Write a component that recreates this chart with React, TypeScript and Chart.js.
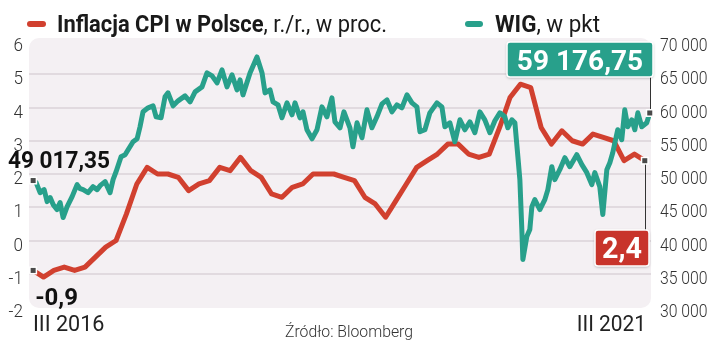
import React, { useEffect, useRef } from "react";
import { Chart, registerables } from "chart.js";

Chart.register(...registerables);

// CPI y/y, monthly from III 2016 (index 0) to II 2021
const cpiValues = [
  -0.9, -1.1, -0.9, -0.8, -0.9, -0.8, -0.5, -0.2, 0.0, 0.8,
  1.7, 2.2, 2.0, 2.0, 1.9, 1.5, 1.7, 1.8, 2.2, 2.1, 2.5, 2.1,
  1.9, 1.4, 1.3, 1.6, 1.7, 2.0, 2.0, 2.0, 1.9, 1.8, 1.3, 1.1,
  0.7, 1.2, 1.7, 2.2, 2.4, 2.6, 2.9, 2.9, 2.6, 2.5, 2.6, 3.4,
  4.3, 4.7, 4.6, 3.4, 2.9, 3.3, 3.0, 2.9, 3.2, 3.1, 3.0, 2.4,
  2.6, 2.4,
];

// WIG: position in months since III 2016, and index level
const wigMonths = [
  0, 0.29, 0.67, 1.06, 1.35, 1.64, 1.93, 2.31, 2.6, 2.89,
  3.28, 3.76, 4.24, 4.53, 4.82, 5.3, 5.78, 6.17, 6.46, 6.94,
  7.42, 7.71, 8.0, 8.48, 8.87, 9.16, 9.64, 10.03, 10.31, 10.6,
  11.09, 11.57, 11.86, 12.34, 12.72, 13.01, 13.5, 13.98, 14.65, 15.14,
  15.62, 16.29, 16.77, 17.26, 17.74, 18.22, 18.7, 19.18, 19.67, 19.96,
  20.24, 20.92, 21.59, 22.08, 22.37, 22.85, 23.14, 23.62, 24.0, 24.49,
  24.97, 25.26, 25.74, 26.03, 26.41, 26.9, 27.38, 27.86, 28.34, 28.82,
  29.11, 29.6, 29.98, 30.56, 30.85, 31.24, 31.72, 32.2, 32.68, 33.16,
  33.65, 34.13, 34.61, 35.09, 35.57, 36.06, 36.54, 37.02, 37.31, 37.79,
  38.27, 38.95, 39.43, 39.72, 40.2, 40.68, 41.17, 41.65, 42.13, 42.61,
  43.09, 43.57, 44.06, 44.54, 45.02, 45.5, 45.79, 46.18, 46.47, 46.76,
  46.95, 47.14, 47.24, 47.62, 47.91, 48.11, 48.39, 48.88, 49.36, 49.65,
  50.03, 50.32, 50.8, 51.29, 51.77, 52.44, 52.93, 53.41, 53.89, 54.18,
  54.66, 54.95, 55.34, 55.63, 55.91, 56.39, 56.78, 57.07, 57.36, 57.75,
  58.04, 58.33, 58.71, 59.19, 59.48,
];

const wigValues = [
  49017.35, 48700, 47200, 47650, 45850, 46450, 45400, 44650, 45700, 43450,
  45100, 46600, 48400, 47800, 47650, 47200, 48100, 47650, 48250, 48850,
  47200, 49150, 50350, 52600, 52900, 53650, 54850, 55300, 57100, 59350,
  59950, 60250, 58600, 58450, 61600, 62200, 60250, 61000, 61750, 60850,
  62350, 63100, 65200, 64750, 63700, 65650, 63100, 64900, 62650, 64150,
  61900, 65200, 67600, 65200, 62200, 62650, 60850, 60400, 58450, 60700,
  58900, 60700, 58450, 59350, 56650, 55300, 56650, 60100, 58600, 61450,
  57850, 56950, 59350, 56950, 54100, 57700, 55450, 59650, 56950, 58600,
  60550, 61150, 59350, 60400, 59950, 61900, 60700, 60100, 56350, 56650,
  59200, 60700, 60100, 57100, 57700, 54850, 58150, 56650, 57850, 56200,
  59350, 58150, 56200, 58000, 59200, 58600, 56950, 58150, 57700, 52600,
  49150, 41650, 37150, 40600, 41650, 45100, 46150, 44650, 46150, 47650,
  51100, 49150, 50650, 52450, 51100, 52900, 51400, 50200, 48400, 50200,
  48100, 43900, 50650, 51700, 53200, 56650, 55150, 59650, 57100, 58150,
  56650, 59200, 57100, 57700, 59176.75,
];

const cpiTicks = [-2, -1, 0, 1, 2, 3, 4, 5, 6];
const wigTicks = [30000, 35000, 40000, 45000, 50000, 55000, 60000, 65000, 70000];
const xLabels = ["III 2016", "III 2021"];
const legendCpi = ["Inflacja CPI w Polsce", ", r./r., w proc."];
const legendWig = ["WIG", ", w pkt"];
const sourceText = "Źródło: Bloomberg";

const RED = "#d1402f";
const TEAL = "#28a08b";
const FONT = "Roboto, 'Noto Sans', sans-serif";

function groupInt(s: string) {
  return s.replace(/\B(?=(\d{3})+(?!\d))/g, " ");
}
function fmtWig(v: number) {
  const [i, d] = v.toFixed(2).split(".");
  return groupInt(i) + "," + d;
}
function fmtCpi(v: number) {
  return v.toFixed(1).replace(".", ",");
}

function drawText(
  ctx: CanvasRenderingContext2D,
  s: string,
  x: number,
  y: number,
  font: string,
  color: string,
  align: CanvasTextAlign,
  sx = 1
) {
  ctx.save();
  ctx.font = font;
  ctx.fillStyle = color;
  ctx.textBaseline = "alphabetic";
  ctx.textAlign = align;
  ctx.translate(x, y);
  ctx.scale(sx, 1);
  ctx.fillText(s, 0, 0);
  ctx.restore();
}

function fitScale(ctx: CanvasRenderingContext2D, s: string, font: string, target: number) {
  ctx.save();
  ctx.font = font;
  const w = ctx.measureText(s).width;
  ctx.restore();
  return w > 0 ? target / w : 1;
}

function rr(ctx: CanvasRenderingContext2D, x: number, y: number, w: number, h: number, r: number) {
  ctx.beginPath();
  ctx.moveTo(x + r, y);
  ctx.lineTo(x + w - r, y);
  ctx.arcTo(x + w, y, x + w, y + r, r);
  ctx.lineTo(x + w, y + h - r);
  ctx.arcTo(x + w, y + h, x + w - r, y + h, r);
  ctx.lineTo(x + r, y + h);
  ctx.arcTo(x, y + h, x, y + h - r, r);
  ctx.lineTo(x, y + r);
  ctx.arcTo(x, y, x + r, y, r);
  ctx.closePath();
}

function marker(ctx: CanvasRenderingContext2D, x: number, y: number) {
  ctx.save();
  ctx.fillStyle = "#ffffff";
  ctx.fillRect(x - 4, y - 4, 8, 8);
  ctx.fillStyle = "#4a4a4a";
  ctx.fillRect(x - 2.5, y - 2.5, 5, 5);
  ctx.restore();
}

function valueBox(
  ctx: CanvasRenderingContext2D,
  x: number,
  y: number,
  w: number,
  h: number,
  color: string,
  text: string,
  size: number,
  textW: number
) {
  ctx.save();
  ctx.shadowColor = "rgba(0,0,0,0.35)";
  ctx.shadowBlur = 3;
  ctx.shadowOffsetY = 1;
  rr(ctx, x, y, w, h, 3);
  ctx.fillStyle = color;
  ctx.fill();
  ctx.shadowColor = "transparent";
  ctx.lineWidth = 1.5;
  ctx.strokeStyle = "#ffffff";
  ctx.stroke();
  ctx.restore();
  const font = `700 ${size}px ${FONT}`;
  const sx = Math.min(1, fitScale(ctx, text, font, textW));
  drawText(ctx, text, x + w / 2, y + h / 2 + size * 0.36, font, "#ffffff", "center", sx);
}

const decor = {
  id: "decor",
  beforeDatasetsDraw(chart: any) {
    const { ctx, chartArea: a, scales } = chart;
    ctx.save();
    rr(ctx, a.left, a.top - 3, a.right - a.left, a.bottom - a.top + 4, 10);
    ctx.fillStyle = "#f4f0f3";
    ctx.fill();
    ctx.strokeStyle = "#dbd3d9";
    ctx.lineWidth = 1.5;
    for (const t of cpiTicks) {
      if (t <= cpiTicks[0] || t >= cpiTicks[cpiTicks.length - 1]) continue;
      const y = Math.round(scales.y.getPixelForValue(t));
      ctx.beginPath();
      ctx.moveTo(a.left, y);
      ctx.lineTo(a.right, y);
      ctx.stroke();
    }
    ctx.restore();
  },
  afterDatasetsDraw(chart: any) {
    const { ctx, chartArea: a, scales } = chart;
    const xs = scales.x, ys = scales.y, y2 = scales.y2;
    const tickFont = `300 19px ${FONT}`;

    // left ticks
    for (const t of cpiTicks) {
      const y = ys.getPixelForValue(t);
      drawText(ctx, String(t), 23, y + 10, tickFont, "#333333", "right", 0.9);
    }
    // right ticks
    for (const v of wigTicks) {
      const y = y2.getPixelForValue(v);
      drawText(ctx, groupInt(String(v)), a.right + 9, y + 10, tickFont, "#333333", "left", 0.83);
    }
    // x labels
    const xFont = `400 22px ${FONT}`;
    drawText(ctx, xLabels[0], a.left + 4, a.bottom + 24, xFont, "#222222", "left", 0.98);
    drawText(ctx, xLabels[1], a.right - 5, a.bottom + 24, xFont, "#222222", "right", 0.95);
    // source
    const sFont = `300 17px ${FONT}`;
    drawText(ctx, sourceText, 349, a.bottom + 30, sFont, "#333333", "center", fitScale(ctx, sourceText, sFont, 128));

    // legend
    const bF = `700 23px ${FONT}`;
    const rF = `400 23px ${FONT}`;
    ctx.save();
    ctx.lineCap = "round";
    ctx.lineWidth = 6;
    ctx.strokeStyle = RED;
    ctx.beginPath();
    ctx.moveTo(30, 24);
    ctx.lineTo(43, 24);
    ctx.stroke();
    ctx.strokeStyle = TEAL;
    ctx.beginPath();
    ctx.moveTo(468, 24);
    ctx.lineTo(480, 24);
    ctx.stroke();
    ctx.restore();
    {
      ctx.save();
      ctx.font = bF;
      const wb = ctx.measureText(legendCpi[0]).width;
      ctx.font = rF;
      const wr = ctx.measureText(legendCpi[1]).width;
      ctx.restore();
      const sx = 330 / (wb + wr);
      drawText(ctx, legendCpi[0], 57, 32, bF, "#1a1a1a", "left", sx);
      drawText(ctx, legendCpi[1], 57 + wb * sx, 32, rF, "#1a1a1a", "left", sx);
    }
    {
      ctx.save();
      ctx.font = bF;
      const wb = ctx.measureText(legendWig[0]).width;
      ctx.font = rF;
      const wr = ctx.measureText(legendWig[1]).width;
      ctx.restore();
      const sx = 105 / (wb + wr);
      drawText(ctx, legendWig[0], 495, 32, bF, "#1a1a1a", "left", sx);
      drawText(ctx, legendWig[1], 495 + wb * sx, 32, rF, "#1a1a1a", "left", sx);
    }

    // start markers and labels
    const wsx = xs.getPixelForValue(wigMonths[0]);
    const wsy = y2.getPixelForValue(wigValues[0]);
    const csx = xs.getPixelForValue(0);
    const csy = ys.getPixelForValue(cpiValues[0]);
    marker(ctx, wsx, wsy);
    marker(ctx, csx, csy);
    const lF = `700 23px ${FONT}`;
    const wStart = fmtWig(wigValues[0]);
    drawText(ctx, wStart, 8, wsy - 13, lF, "#111111", "left", fitScale(ctx, wStart, lF, 102));
    const cStart = fmtCpi(cpiValues[0]);
    drawText(ctx, cStart, csx + 2, csy + 35, `700 24px ${FONT}`, "#111111", "left", 1);

    // end markers, connectors, boxes
    const wex = xs.getPixelForValue(wigMonths[wigMonths.length - 1]);
    const wey = y2.getPixelForValue(wigValues[wigValues.length - 1]);
    const cex = xs.getPixelForValue(cpiValues.length - 1);
    const cey = ys.getPixelForValue(cpiValues[cpiValues.length - 1]);

    ctx.save();
    ctx.strokeStyle = "#333333";
    ctx.lineWidth = 1;
    ctx.beginPath();
    ctx.moveTo(Math.round(wex) + 0.5, wey);
    ctx.lineTo(Math.round(wex) + 0.5, 77);
    ctx.moveTo(Math.round(cex) + 0.5, cey);
    ctx.lineTo(Math.round(cex) + 0.5, 230);
    ctx.stroke();
    ctx.restore();

    valueBox(ctx, 507, 42, 146, 35, TEAL, fmtWig(wigValues[wigValues.length - 1]), 28, 130);
    valueBox(ctx, 595, 230, 54, 36, "#c8342b", fmtCpi(cpiValues[cpiValues.length - 1]), 29, 40);

    marker(ctx, wex, wey);
    marker(ctx, cex, cey);
  },
};

export default function App() {
  const ref = useRef<HTMLCanvasElement | null>(null);
  useEffect(() => {
    if (!ref.current) return;
    const chart = new Chart(ref.current, {
      type: "line",
      data: {
        datasets: [
          {
            label: "WIG",
            data: wigMonths.map((m, i) => ({ x: m, y: wigValues[i] })),
            yAxisID: "y2",
            borderColor: TEAL,
            borderWidth: 5,
            pointRadius: 0,
            tension: 0,
            borderJoinStyle: "round",
            borderCapStyle: "round",
            order: 0,
          },
          {
            label: "Inflacja CPI",
            data: cpiValues.map((v, i) => ({ x: i, y: v })),
            yAxisID: "y",
            borderColor: RED,
            borderWidth: 5,
            pointRadius: 0,
            tension: 0,
            borderJoinStyle: "round",
            borderCapStyle: "round",
            order: 1,
          },
        ],
      },
      options: {
        animation: false,
        responsive: false,
        devicePixelRatio: 1,
        layout: { padding: { left: 29, right: 70, top: 41, bottom: 44 } },
        plugins: { legend: { display: false }, tooltip: { enabled: false }, title: { display: false } },
        scales: {
          x: { type: "linear", min: -0.4, max: 59.6, display: false },
          y: { type: "linear", min: -2, max: 6, display: false },
          y2: { type: "linear", min: 30000, max: 70000, display: false, position: "right" },
        },
      },
      plugins: [decor],
    } as any);
    return () => chart.destroy();
  }, []);
  return (
    <div style={{ position: "absolute", left: 0, top: 0, width: 721, height: 351, background: "#ffffff" }}>
      <canvas ref={ref} width={721} height={351} style={{ display: "block" }} />
    </div>
  );
}
